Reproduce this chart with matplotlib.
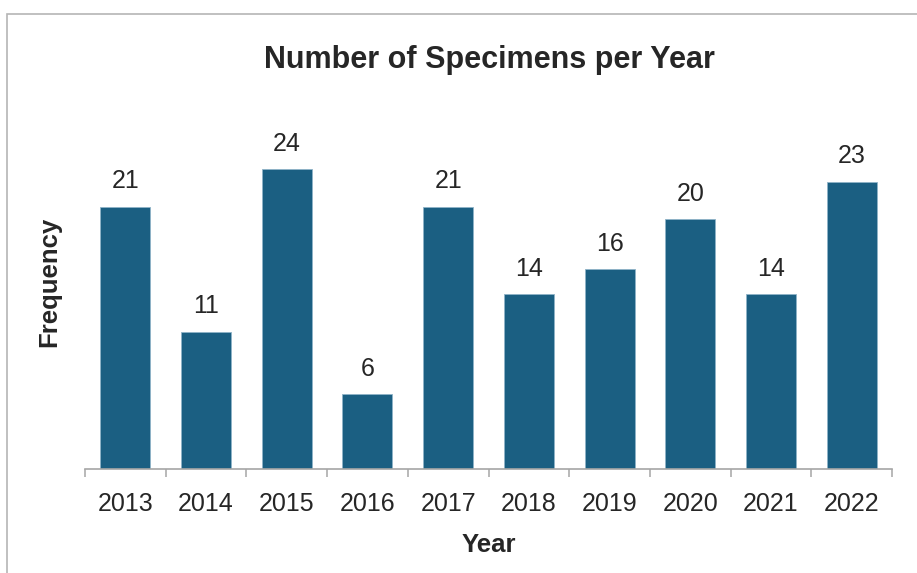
import matplotlib.pyplot as plt
from matplotlib.patches import Rectangle

years = ["2013", "2014", "2015", "2016", "2017", "2018", "2019", "2020", "2021", "2022"]
counts = [21, 11, 24, 6, 21, 14, 16, 20, 14, 23]

bar_color = "#1b5f82"
axis_gray = "#a6a6a6"

plt.rcParams["font.family"] = ["Liberation Sans", "DejaVu Sans"]

fig = plt.figure(figsize=(9.17, 5.73), dpi=100)
ax = fig.add_axes([85 / 917, 104 / 573, 807 / 917, 375 / 573])

x = list(range(len(years)))
bars = ax.bar(x, counts, width=0.62, color=bar_color, edgecolor="#8fb3c8", linewidth=0.6)

for xi, c in zip(x, counts):
    ax.annotate(str(c), (xi, c), xytext=(0, 9.5), textcoords="offset points",
                ha="center", va="bottom", fontsize=18, color="#262626")

ax.set_xlim(-0.5, len(years) - 0.5)
ax.set_ylim(0, 30)
ax.set_yticks([])
ax.set_xticks(x)
ax.set_xticklabels(years, fontsize=18, color="#262626")
ax.set_xticks([i - 0.5 for i in range(len(years) + 1)], minor=True)
ax.tick_params(axis="x", which="major", length=0, pad=16.5)
ax.tick_params(axis="x", which="minor", length=6, width=1.1, color=axis_gray)

for side in ["top", "right", "left"]:
    ax.spines[side].set_visible(False)
ax.spines["bottom"].set_color(axis_gray)
ax.spines["bottom"].set_linewidth(1.2)

ax.set_xlabel("Year", fontsize=18.5, fontweight="bold", color="#262626", labelpad=12)
ax.set_ylabel("Frequency", fontsize=18.5, fontweight="bold", color="#262626", labelpad=17)
fig.text(489 / 917, 1 - 60 / 573, "Number of Specimens per Year", ha="center", va="center",
         fontsize=22, fontweight="bold", color="#262626")

# chart-area border, cropped at right and bottom like the source
fig.patches.append(Rectangle((7 / 917, -0.1), 1.2, 1 - 14 / 573 + 0.1, transform=fig.transFigure,
                             fill=False, edgecolor="#b5b5b5", linewidth=1.2))

fig.savefig("out.png", dpi=100)
